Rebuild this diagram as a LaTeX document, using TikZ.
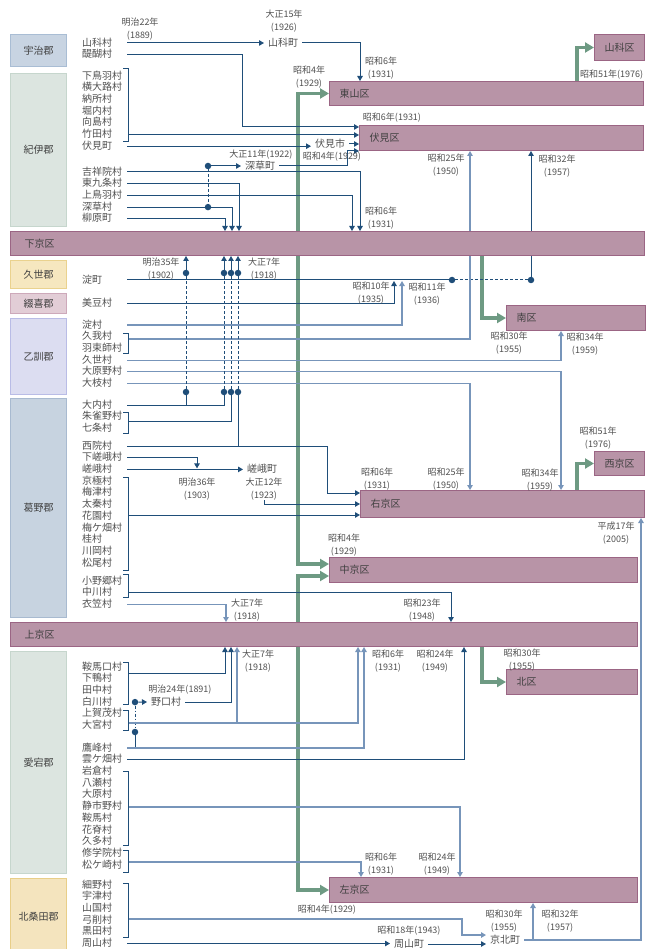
\documentclass[tikz,border=0pt]{standalone}
\usepackage{fontspec}
\setmainfont{Noto Sans CJK JP}
\usetikzlibrary{arrows.meta,backgrounds,positioning}

\definecolor{kufill}{HTML}{B894A7}
\definecolor{kuline}{HTML}{9B6584}
\definecolor{ujifill}{HTML}{C8D4E2}
\definecolor{ujiline}{HTML}{A9BDD4}
\definecolor{kiifill}{HTML}{DCE5E0}
\definecolor{kiiline}{HTML}{C6D6CD}
\definecolor{kuzefill}{HTML}{F6E7BF}
\definecolor{kuzeline}{HTML}{EAD28E}
\definecolor{tsuzukifill}{HTML}{E2CDD6}
\definecolor{tsuzukiline}{HTML}{CDA9BA}
\definecolor{otokunifill}{HTML}{DCDDF1}
\definecolor{otokuniline}{HTML}{B9BCE6}
\definecolor{kadonofill}{HTML}{C7D3E0}
\definecolor{kadonoline}{HTML}{A8BAD0}
\definecolor{kitafill}{HTML}{F4E4BE}
\definecolor{kitaline}{HTML}{E8CE88}
\definecolor{txt}{HTML}{505050}
\definecolor{boxtxt}{HTML}{404040}
\definecolor{ao}{HTML}{1F4E79}
\definecolor{aol}{HTML}{7795BA}
\definecolor{midori}{HTML}{6E9A83}

\tikzstyle{gun} = [rectangle, draw, line width=1.2pt, minimum width=56pt, anchor=north west, inner sep=0pt, text=boxtxt, font=\fontsize{10}{10}\selectfont]
\tikzstyle{ku} = [rectangle, draw=kuline, fill=kufill, line width=1pt, anchor=north west, inner xsep=10pt, inner ysep=0pt, align=left, text=boxtxt, font=\fontsize{10}{10}\selectfont]
\tikzstyle{mura} = [inner sep=0pt, text width=45pt, align=left, text height=7.8pt, text depth=1.6pt, text=txt, font=\fontsize{10}{10}\selectfont, node distance=11.7pt]
\tikzstyle{cho} = [anchor=west, inner xsep=4pt, inner ysep=0pt, text height=7.8pt, text depth=1.6pt, text=txt, font=\fontsize{10}{10}\selectfont]
\tikzstyle{nen} = [inner sep=0pt, align=center, text=txt, font=\fontsize{9}{12.5}\selectfont]
\tikzstyle{conn} = [draw=ao, line width=1pt]
\tikzstyle{connl} = [draw=aol, line width=1.2pt]
\tikzstyle{arr} = [-{Triangle[length=5pt,width=5.5pt]}]
\tikzstyle{kuarr} = [draw=midori, line width=3.5pt, -{Triangle[length=9pt,width=10pt]}]
\tikzstyle{maru} = [circle, fill=ao, inner sep=0pt, minimum size=6.5pt]
\tikzstyle{brk} = [draw=ao, line width=0.8pt]
\tikzstyle{haten} = [dash pattern=on 3pt off 2pt]

\begin{document}
\begin{tikzpicture}[x=1pt, y=-1pt]
	\useasboundingbox (0,0) rectangle (646,949);

	% gun
	\node [gun, fill=ujifill, draw=ujiline, minimum height=32pt] (uji) at (10,34) {宇治郡};
	\node [gun, fill=kiifill, draw=kiiline, minimum height=153pt] (kii) at (10,73) {紀伊郡};
	\node [gun, fill=kuzefill, draw=kuzeline, minimum height=28pt] (kuzegun) at (10,260) {久世郡};
	\node [gun, fill=tsuzukifill, draw=tsuzukiline, minimum height=20pt] (tsuzuki) at (10,293) {綴喜郡};
	\node [gun, fill=otokunifill, draw=otokuniline, minimum height=76pt] (otokuni) at (10,318) {乙訓郡};
	\node [gun, fill=kadonofill, draw=kadonoline, minimum height=219pt] (kadono) at (10,398) {葛野郡};
	\node [gun, fill=kiifill, draw=kiiline, minimum height=222pt] (otagi) at (10,651) {愛宕郡};
	\node [gun, fill=kitafill, draw=kitaline, minimum height=76pt] (kitakuwada) at (10,878) {北桑田郡};

	% ku
	\node [ku, align=center, text width=30pt, minimum height=26pt] (yamashinaku) at (594,34) {山科区};
	\node [ku, text width=294pt, minimum height=24pt] (higashiyama) at (329,81) {東山区};
	\node [ku, text width=264pt, minimum height=25pt] (fushimi) at (359,125) {伏見区};
	\node [ku, inner xsep=14pt, text width=606pt, minimum height=24pt] (shimogyo) at (10,231) {下京区};
	\node [ku, text width=119pt, minimum height=25pt] (minami) at (506,305) {南区};
	\node [ku, align=center, text width=30pt, minimum height=24pt] (nishikyo) at (594,451) {西京区};
	\node [ku, text width=264pt, minimum height=27pt] (ukyo) at (360,490) {右京区};
	\node [ku, text width=288pt, minimum height=25pt] (nakagyo) at (329,557) {中京区};
	\node [ku, inner xsep=14pt, text width=599pt, minimum height=24pt] (kamigyo) at (10,622) {上京区};
	\node [ku, text width=111pt, minimum height=25pt] (kita) at (506,669) {北区};
	\node [ku, text width=288pt, minimum height=25pt] (sakyo) at (329,877) {左京区};

	% mura
	\node [mura, anchor=west] (m-yamashina) at (82,43) {山科村};
	\node [mura, below of=m-yamashina] (m-daigo) {醍醐村};

	\node [mura, anchor=west] (m-shimotoba) at (82,76) {下鳥羽村};
	\node [mura, below of=m-shimotoba] (m-yokooji) {横大路村};
	\node [mura, below of=m-yokooji] (m-noso) {納所村};
	\node [mura, below of=m-noso] (m-horiuchi) {堀内村};
	\node [mura, below of=m-horiuchi] (m-mukaijima) {向島村};
	\node [mura, below of=m-mukaijima] (m-takeda) {竹田村};
	\node [mura, below of=m-takeda] (m-fushimicho) {伏見町};

	\node [mura, anchor=west] (m-kisshoin) at (82,172) {吉祥院村};
	\node [mura, below of=m-kisshoin] (m-higashikujo) {東九条村};
	\node [mura, below of=m-higashikujo] (m-kamitoba) {上鳥羽村};
	\node [mura, below of=m-kamitoba] (m-fukakusa) {深草村};
	\node [mura, below of=m-fukakusa] (m-yanagihara) {柳原町};

	\node [mura, anchor=west] (m-yodocho) at (82,280) {淀町};
	\node [mura, anchor=west] (m-mizu) at (82,303) {美豆村};

	\node [mura, anchor=west] (m-yodo) at (82,325) {淀村};
	\node [mura, below of=m-yodo] (m-koga) {久我村};
	\node [mura, below of=m-koga] (m-hazukashi) {羽束師村};
	\node [mura, below of=m-hazukashi] (m-kuze) {久世村};
	\node [mura, below of=m-kuze] (m-oharano) {大原野村};
	\node [mura, below of=m-oharano] (m-oe) {大枝村};

	\node [mura, anchor=west] (m-ouchi) at (82,405) {大内村};
	\node [mura, below of=m-ouchi] (m-shujakuno) {朱雀野村};
	\node [mura, below of=m-shujakuno] (m-shichijo) {七条村};

	\node [mura, anchor=west] (m-saiin) at (82,446) {西院村};
	\node [mura, below of=m-saiin] (m-shimosaga) {下嵯峨村};
	\node [mura, below of=m-shimosaga] (m-saga) {嵯峨村};
	\node [mura, below of=m-saga] (m-kyogoku) {京極村};
	\node [mura, below of=m-kyogoku] (m-umezu) {梅津村};
	\node [mura, below of=m-umezu] (m-uzumasa) {太秦村};
	\node [mura, below of=m-uzumasa] (m-hanazono) {花園村};
	\node [mura, below of=m-hanazono] (m-umegahata) {梅ケ畑村};
	\node [mura, below of=m-umegahata] (m-katsura) {桂村};
	\node [mura, below of=m-katsura] (m-kawaoka) {川岡村};
	\node [mura, below of=m-kawaoka] (m-matsuo) {松尾村};

	\node [mura, anchor=west] (m-onogo) at (82,581) {小野郷村};
	\node [mura, below of=m-onogo] (m-nakagawa) {中川村};
	\node [mura, below of=m-nakagawa] (m-kinugasa) {衣笠村};

	\node [mura, anchor=west] (m-kuramaguchi) at (82,667) {鞍馬口村};
	\node [mura, below of=m-kuramaguchi] (m-shimogamo) {下鴨村};
	\node [mura, below of=m-shimogamo] (m-tanaka) {田中村};
	\node [mura, below of=m-tanaka] (m-shirakawa) {白川村};
	\node [mura, below of=m-shirakawa] (m-kamigamo) {上賀茂村};
	\node [mura, below of=m-kamigamo] (m-omiya) {大宮村};

	\node [mura, anchor=west] (m-takagamine) at (82,748) {鷹峰村};
	\node [mura, below of=m-takagamine] (m-kumogahata) {雲ケ畑村};
	\node [mura, below of=m-kumogahata] (m-iwakura) {岩倉村};
	\node [mura, below of=m-iwakura] (m-yase) {八瀬村};
	\node [mura, below of=m-yase] (m-ohara) {大原村};
	\node [mura, below of=m-ohara] (m-shizuichino) {静市野村};
	\node [mura, below of=m-shizuichino] (m-kurama) {鞍馬村};
	\node [mura, below of=m-kurama] (m-hanase) {花脊村};
	\node [mura, below of=m-hanase] (m-kuta) {久多村};
	\node [mura, below of=m-kuta] (m-shugakuin) {修学院村};
	\node [mura, below of=m-shugakuin] (m-matsugasaki) {松ケ崎村};

	\node [mura, anchor=west] (m-hosono) at (82,885) {細野村};
	\node [mura, below of=m-hosono] (m-utsu) {宇津村};
	\node [mura, below of=m-utsu] (m-yamaguni) {山国村};
	\node [mura, below of=m-yamaguni] (m-yuge) {弓削村};
	\node [mura, below of=m-yuge] (m-kuroda) {黒田村};
	\node [mura, below of=m-kuroda] (m-shuzan) {周山村};

	% cho
	\node [cho] (yamashinacho) at (264,43) {山科町};
	\node [cho] (fushimishi) at (311,144) {伏見市};
	\node [cho] (fukakusacho) at (241,166) {深草町};
	\node [cho] (sagacho) at (243,469) {嵯峨町};
	\node [cho] (noguchi) at (147,702) {野口村};
	\node [cho] (shuzancho) at (390,944) {周山町};
	\node [cho] (keihoku) at (486,940) {京北町};

	% nen
	\node [nen] (n-m22) at (140,29) {明治22年\\(1889)};
	\node [nen] (n-t15) at (284,21) {大正15年\\(1926)};
	\node [nen] (n-s6a) at (381,68) {昭和6年\\(1931)};
	\node [nen] (n-s4a) at (309,77) {昭和4年\\(1929)};
	\node [nen, anchor=west] (n-s51a) at (580,75) {昭和51年(1976)};
	\node [nen] (n-s6b) at (392,118) {昭和6年(1931)};
	\node [nen] (n-t11) at (261,155) {大正11年(1922)};
	\node [nen] (n-s4b) at (332,157) {昭和4年(1929)};
	\node [nen] (n-s25a) at (446,165) {昭和25年\\(1950)};
	\node [nen] (n-s32a) at (557,166) {昭和32年\\(1957)};
	\node [nen] (n-s6c) at (381,218) {昭和6年\\(1931)};
	\node [nen] (n-m35) at (161,269) {明治35年\\(1902)};
	\node [nen] (n-t7a) at (264,269) {大正7年\\(1918)};
	\node [nen] (n-s10) at (371,293) {昭和10年\\(1935)};
	\node [nen] (n-s11) at (427,294) {昭和11年\\(1936)};
	\node [nen] (n-s30a) at (509,343) {昭和30年\\(1955)};
	\node [nen] (n-s34a) at (585,344) {昭和34年\\(1959)};
	\node [nen] (n-s51b) at (598,438) {昭和51年\\(1976)};
	\node [nen] (n-s6d) at (377,479) {昭和6年\\(1931)};
	\node [nen] (n-s25b) at (446,479) {昭和25年\\(1950)};
	\node [nen] (n-s34b) at (540,480) {昭和34年\\(1959)};
	\node [nen] (n-m36) at (197,489) {明治36年\\(1903)};
	\node [nen] (n-t12) at (264,489) {大正12年\\(1923)};
	\node [nen] (n-h17) at (616,533) {平成17年\\(2005)};
	\node [nen] (n-s4c) at (344,545) {昭和4年\\(1929)};
	\node [nen] (n-t7b) at (247,610) {大正7年\\(1918)};
	\node [nen] (n-s23) at (422,610) {昭和23年\\(1948)};
	\node [nen] (n-t7c) at (258,661) {大正7年\\(1918)};
	\node [nen] (n-s6e) at (388,661) {昭和6年\\(1931)};
	\node [nen] (n-s24a) at (435,661) {昭和24年\\(1949)};
	\node [nen] (n-s30b) at (522,660) {昭和30年\\(1955)};
	\node [nen] (n-m24) at (180,690) {明治24年(1891)};
	\node [nen] (n-s6f) at (381,864) {昭和6年\\(1931)};
	\node [nen] (n-s24b) at (437,864) {昭和24年\\(1949)};
	\node [nen] (n-s4d) at (327,910) {昭和4年(1929)};
	\node [nen] (n-s18) at (409,931) {昭和18年(1943)};
	\node [nen] (n-s30c) at (504,921) {昭和30年\\(1955)};
	\node [nen] (n-s32b) at (560,921) {昭和32年\\(1957)};

	% maru
	\node [maru] (d-fk1) at (208,166) {};
	\node [maru] (d-fk2) at (m-fukakusa -| 208,0) {};
	\foreach \i/\x in {1/186,2/224,3/231,4/238} {
		\node [maru] (d-t\i) at (\x,273) {};
		\node [maru] (d-b\i) at (\x,392) {};
	}
	\node [maru] (d-yd1) at (m-yodocho -| 452,0) {};
	\node [maru] (d-yd2) at (m-yodocho -| 531,0) {};
	\node [maru] (d-ng1) at (m-shirakawa -| 135,0) {};
	\node [maru] (d-ng2) at (135,732) {};

	% kakko
	\coordinate (b-kii) at (128,135);
	\coordinate (b-koga) at (128,339);
	\coordinate (b-shujaku) at (128,421);
	\coordinate (b-kyogoku) at (128,515);
	\coordinate (b-ono) at (128,592);
	\coordinate (b-kuramaguchi) at (128,673);
	\coordinate (b-kamigamo) at (128,723);
	\coordinate (b-iwakura) at (128,807);
	\coordinate (b-shugakuin) at (128,862);
	\coordinate (b-hosono) at (128,919);
	\draw [brk] (123,68) -| (128,141) -- (123,141);
	\draw [brk] (123,333) -| (128,353) -- (123,353);
	\draw [brk] (123,412) -| (128,433) -- (123,433);
	\draw [brk] (123,477) -| (128,570) -- (123,570);
	\draw [brk] (123,574) -| (128,597) -- (123,597);
	\draw [brk] (123,662) -| (128,704) -- (123,704);
	\draw [brk] (123,710) -| (128,730) -- (123,730);
	\draw [brk] (123,771) -| (128,845) -- (123,845);
	\draw [brk] (123,850) -| (128,872) -- (123,872);
	\draw [brk] (123,883) -| (128,937) -- (123,937);

	\begin{scope}[on background layer]
		% green
		\draw [kuarr] (shimogyo.north -| 298,0) |- (higashiyama.west);
		\draw [kuarr] (shimogyo.south -| 298,0) |- ([yshift=6pt]nakagyo.west);
		\draw [kuarr] (kamigyo.north -| 298,0) |- ([yshift=-6pt]nakagyo.west);
		\draw [kuarr] (kamigyo.south -| 298,0) |- (sakyo.west);
		\draw [kuarr] (higashiyama.north -| 577,0) |- (yamashinaku.west);
		\draw [kuarr] (shimogyo.south -| 482,0) |- (minami.west);
		\draw [kuarr] (ukyo.north -| 577,0) |- (nishikyo.west);
		\draw [kuarr] (kamigyo.south -| 482,0) |- (kita.west);

		% uji, kii
		\draw [conn, arr] (m-yamashina.east) -- (yamashinacho.west |- m-yamashina);
		\draw [conn, arr] (yamashinacho.east) -| (higashiyama.north -| 360,0);
		\draw [conn, arr] (m-daigo.east) -- ++(115,0) |- (fushimi.west |- 0,127);
		\draw [conn, arr] (b-kii) -- (fushimi.west |- b-kii);
		\draw [conn, arr] (m-fushimicho.east) -- (fushimishi.west |- m-fushimicho);
		\draw [conn, arr] (fushimishi.east) -- (fushimi.west |- fushimishi);
		\draw [conn, arr] (fukakusacho.east) -- ++(68,0) |- (fushimi.west |- 0,151);
		\draw [conn, arr] (d-fk1) -- (fukakusacho.west);
		\draw [conn, haten] (d-fk1) -- (d-fk2);
		\draw [conn, arr] (m-kisshoin.east) -| (shimogyo.north -| 360,0);
		\draw [conn, arr] (m-higashikujo.east) -| (shimogyo.north -| 239,0);
		\draw [conn, arr] (m-kamitoba.east) -| (shimogyo.north -| 352,0);
		\draw [conn, arr] (m-fukakusa.east) -| (shimogyo.north -| 232,0);
		\draw [conn, arr] (m-yanagihara.east) -| (shimogyo.north -| 225,0);

		% kuze, tsuzuki, otokuni
		\draw [conn] (m-yodocho.east) -- (d-yd1);
		\draw [conn, haten] (d-yd1) -- (d-yd2);
		\draw [conn, arr] (d-yd2) -- (fushimi.south -| d-yd2);
		\draw [conn, arr, shorten >=1pt] (m-mizu.east) -| (m-yodocho -| 394,0);
		\draw [connl, arr, shorten >=1pt] (m-yodo.east) -| (m-yodocho -| 402,0);
		\draw [connl, arr] (b-koga) -| (fushimi.south -| 470,0);
		\draw [connl, arr] (m-kuze.east) -| (minami.south -| 561,0);
		\draw [connl, arr] (m-oharano.east) -| (ukyo.north -| 561,0);
		\draw [connl, arr] (m-oe.east) -| (ukyo.north -| 470,0);

		% kadono
		\foreach \i in {1,...,4} {
			\draw [conn, arr] (d-t\i) -- (shimogyo.south -| d-t\i);
			\draw [conn, haten] (d-t\i) -- (d-b\i);
		}
		\draw [conn] (d-b1) -- (d-b1 |- m-ouchi);
		\draw [conn] (m-ouchi.east) -| (d-b2);
		\draw [conn] (b-shujaku) -| (d-b3);
		\draw [conn] (d-b4) -- (d-b4 |- m-saiin);
		\draw [conn, arr] (m-saiin.east) -- ++(200,0) |- (ukyo.west |- 0,493);
		\draw [conn, arr, shorten >=1pt] (m-shimosaga.east) -| (m-saga -| 197,0);
		\draw [conn, arr] (m-saga.east) -- (sagacho.west |- m-saga);
		\draw [conn, arr] (n-t12.south) |- (ukyo.west |- 0,504);
		\draw [conn, arr] (b-kyogoku) -- (ukyo.west |- b-kyogoku);
		\draw [conn, arr] (b-ono) -| (kamigyo.north -| 451,0);
		\draw [connl, arr] (m-kinugasa.east) -| (kamigyo.north -| 226,0);

		% otagi
		\draw [conn, arr] (b-kuramaguchi) -| (kamigyo.south -| 225,0);
		\draw [conn, arr] (d-ng1) -- (noguchi.west);
		\draw [conn, arr] (noguchi.east) -| (kamigyo.south -| 231,0);
		\draw [conn, dashdotted] (d-ng1) -- (d-ng2);
		\draw [conn] (d-ng2) -- (d-ng2 |- m-takagamine);
		\draw [connl, arr] (b-kamigamo) -| (kamigyo.south -| 358,0);
		\draw [connl, arr] (b-kamigamo -| 237,0) -- (kamigyo.south -| 237,0);
		\draw [connl, arr] (m-takagamine.east) -| (kamigyo.south -| 364,0);
		\draw [conn, arr] (m-kumogahata.east) -| (kamigyo.south -| 464,0);
		\draw [connl, arr] (b-iwakura) -| (sakyo.north -| 460,0);
		\draw [connl, arr] (b-shugakuin) -| (sakyo.north -| 361,0);

		% kitakuwada
		\draw [connl, arr] (b-hosono) -- ++(334,0) |- (keihoku.west |- 0,935);
		\draw [conn, arr] (m-shuzan.east) -- (shuzancho.west |- m-shuzan);
		\draw [conn, arr] (shuzancho.east) -- (keihoku.west |- shuzancho);
		\draw [connl, arr] (keihoku.east) -| (ukyo.south -| 641,0);
		\draw [connl, arr] (keihoku.east -| 533,0) -- (sakyo.south -| 533,0);
	\end{scope}
\end{tikzpicture}
\end{document}
